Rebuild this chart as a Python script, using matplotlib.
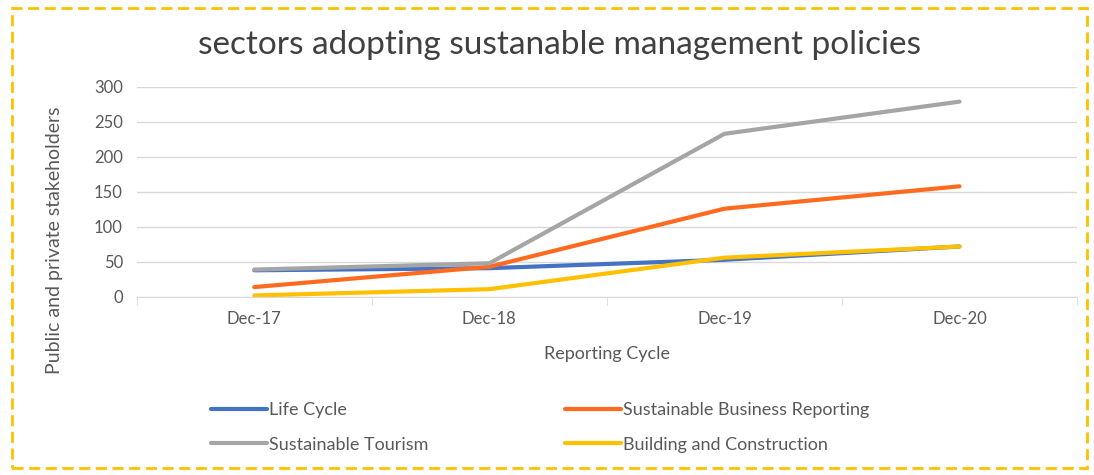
import numpy as np
import matplotlib.pyplot as plt
from matplotlib.patches import Rectangle

# data
cycles = ['Dec-17', 'Dec-18', 'Dec-19', 'Dec-20']
life_cycle = [38, 41, 53, 72]
business_reporting = [14, 43, 126, 158]
tourism = [39, 48, 233, 279]
building = [2, 11, 56, 72]

plt.rcParams['font.family'] = ['Lato', 'DejaVu Sans']

fig = plt.figure(figsize=(10.94, 4.75), dpi=100)
ax = fig.add_axes([0.125, 0.375, 0.8595, 0.442])

x = np.arange(len(cycles))
lw = 3
l1, = ax.plot(x, life_cycle, color='#4472C4', lw=lw, label='Life Cycle', solid_capstyle='round')
l2, = ax.plot(x, business_reporting, color='#FF6A1F', lw=lw, label='Sustainable Business Reporting', solid_capstyle='round')
l3, = ax.plot(x, tourism, color='#A5A5A5', lw=lw, label='Sustainable Tourism', solid_capstyle='round')
l4, = ax.plot(x, building, color='#FFC000', lw=lw, label='Building and Construction', solid_capstyle='round')

ax.set_xlim(-0.5, len(cycles) - 0.5)
ax.set_ylim(0, 300)
ax.set_yticks(range(0, 301, 50))
ax.set_xticks(x)
ax.set_xticklabels(cycles)
ax.set_xticks(np.arange(-0.5, len(cycles), 1.0), minor=True)
ax.grid(axis='y', color='#D9D9D9', lw=1)
ax.set_axisbelow(True)
for s in ['top', 'right', 'left']:
    ax.spines[s].set_visible(False)
ax.spines['bottom'].set_color('#D9D9D9')
ax.tick_params(axis='y', length=0, labelsize=12, labelcolor='#595959', pad=10)
ax.tick_params(axis='x', which='major', length=0, labelsize=12, labelcolor='#595959', pad=10)
ax.tick_params(axis='x', which='minor', length=6, color='#D9D9D9')

ax.set_xlabel('Reporting Cycle', fontsize=13, color='#595959', labelpad=14)
ax.set_ylabel('Public and private stakeholders', fontsize=14, color='#595959')
ax.yaxis.set_label_coords(-0.078, 0.27)

fig.text(0.511, 0.905, 'sectors adopting sustanable management policies',
         ha='center', va='center', fontsize=24, color='#404040')

# row-major order like the original legend
handles = [l1, l3, l2, l4]
fig.legend(handles, [h.get_label() for h in handles], ncol=2, loc='center left',
           bbox_to_anchor=(0.178, 0.10), frameon=False, fontsize=13,
           handlelength=3.1, handletextpad=0.1, columnspacing=7.6,
           labelspacing=1.0, labelcolor='#595959')

fig.patches.append(Rectangle((0.011, 0.015), 0.983, 0.968, transform=fig.transFigure,
                             fill=False, edgecolor='#FFC000', lw=2, ls=(0, (4, 2))))

fig.savefig('out.png', dpi=100)
